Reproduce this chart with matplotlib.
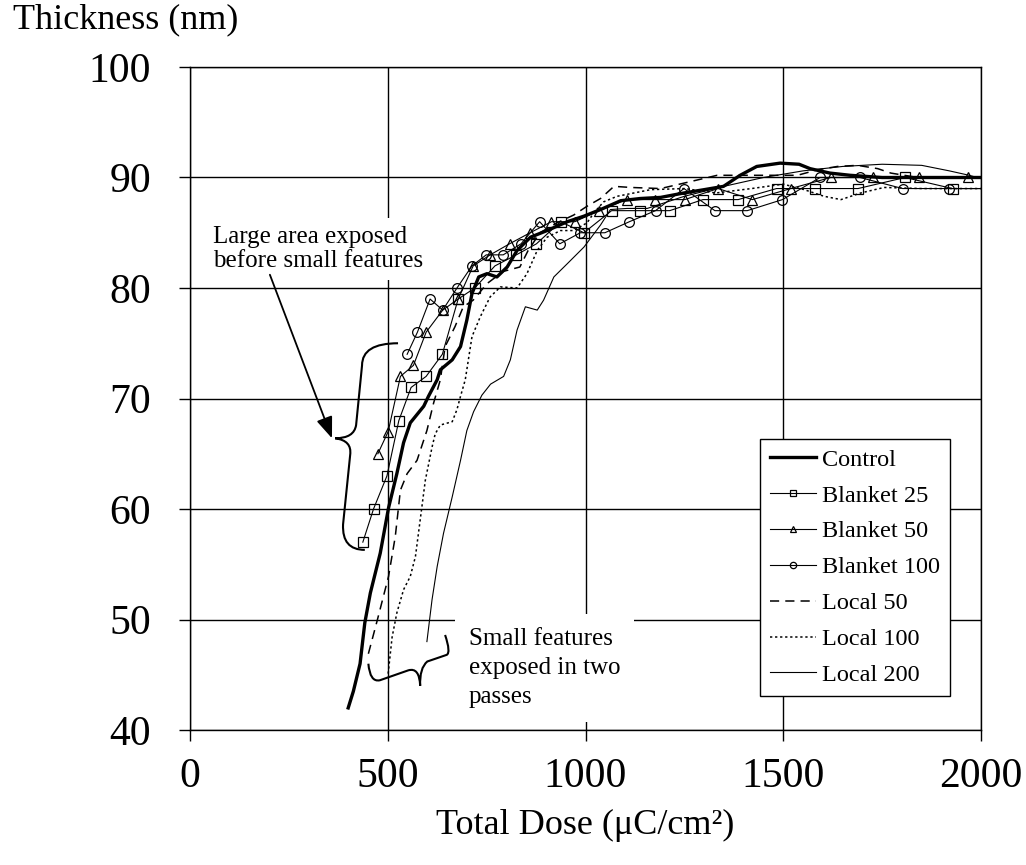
import matplotlib.pyplot as plt
from matplotlib.path import Path
from matplotlib.patches import PathPatch

plt.rcParams['font.family'] = ['Liberation Serif', 'DejaVu Serif']

# --- data ---
control_x = [400, 413, 430, 442, 456, 481, 502, 523, 540, 557, 591, 603, 625, 633, 663, 684, 700, 713,
             730, 751, 776, 802, 827, 861, 903, 954, 996, 1038, 1089, 1139, 1190, 1249, 1300, 1349,
             1391, 1433, 1492, 1540, 1568, 1618, 1669, 1750, 2000]
control_y = [42.0, 43.5, 46.0, 49.7, 52.4, 56.0, 60.1, 63.2, 66.0, 67.8, 69.3, 70.2, 71.7, 72.6, 73.5,
             74.7, 77.1, 79.5, 81.0, 81.3, 81.0, 81.9, 83.4, 84.6, 85.2, 86.0, 86.5, 87.1, 87.9, 88.1,
             88.2, 88.6, 88.9, 89.2, 90.2, 91.0, 91.3, 91.2, 90.8, 90.4, 90.2, 90.0, 90.0]

blanket25_x = [437, 464, 498, 528, 559, 597, 638, 678, 720, 771, 825, 876, 937, 996, 1066, 1137, 1213,
               1297, 1386, 1483, 1581, 1689, 1808, 1928, 2050]
blanket25_y = [57, 60, 63, 68, 71, 72, 74, 79, 80, 82, 83, 84, 86, 85, 87, 87, 87, 88, 88, 89, 89, 89,
               90, 89, 89]

blanket50_x = [475, 501, 532, 565, 597, 639, 678, 716, 759, 808, 860, 914, 973, 1034, 1104, 1175, 1251,
               1335, 1422, 1519, 1620, 1726, 1844, 1966, 2090]
blanket50_y = [65, 67, 72, 73, 76, 78, 79, 82, 83, 84, 85, 86, 86, 87, 88, 88, 88, 89, 88, 89, 90, 90,
               90, 90, 90]

blanket100_x = [549, 575, 607, 639, 675, 713, 749, 792, 837, 884, 935, 987, 1049, 1111, 1177, 1249, 1327,
                1409, 1498, 1593, 1694, 1802, 1920, 2040]
blanket100_y = [74, 76, 79, 78, 80, 82, 83, 83, 84, 86, 84, 85, 85, 86, 87, 89, 87, 87, 88, 90, 90, 89,
                89, 89]

local50_x = [451, 474, 502, 519, 532, 549, 574, 599, 616, 633, 645, 670, 691, 716, 751, 792, 834, 855,
             885, 928, 970, 1004, 1038, 1072, 1114, 1190, 1250, 1333, 1400, 1536, 1587, 1637, 1688, 1739,
             1772, 1840, 2000]
local50_y = [46.9, 50.0, 53.9, 57.5, 61.7, 63.2, 64.4, 67.1, 69.6, 71.7, 74.7, 76.5, 78.3, 78.9, 80.4,
             81.5, 81.9, 83.4, 85.0, 85.9, 86.6, 87.4, 88.1, 89.2, 89.1, 89.0, 89.5, 90.2, 90.2, 90.2,
             90.7, 91.0, 91.1, 90.8, 90.4, 90.0, 90.0]

local100_x = [501, 511, 523, 540, 557, 570, 582, 595, 612, 620, 633, 663, 675, 684, 696, 713, 734, 759,
              785, 827, 852, 878, 903, 937, 970, 1004, 1021, 1046, 1080, 1165, 1250, 1330, 1420, 1500,
              1553, 1603, 1646, 1696, 1755, 1850, 2000]
local100_y = [45.1, 48.4, 50.6, 52.7, 53.9, 55.7, 59.0, 62.6, 65.6, 66.8, 67.6, 67.9, 69.0, 70.2, 71.7,
              75.6, 77.4, 79.2, 80.1, 80.0, 81.3, 83.4, 84.6, 85.2, 85.2, 85.9, 86.8, 87.8, 88.3, 88.9,
              89.0, 88.6, 89.0, 89.4, 88.9, 88.3, 88.0, 88.6, 89.1, 89.0, 89.0]

local200_x = [599, 612, 625, 641, 663, 684, 700, 717, 738, 760, 793, 810, 827, 848, 878, 894, 920, 954,
              996, 1038, 1063, 1105, 1156, 1250, 1350, 1450, 1550, 1650, 1750, 1850, 1920, 1970, 2000]
local200_y = [48.0, 51.8, 54.8, 57.8, 61.1, 64.4, 67.1, 68.8, 70.3, 71.3, 72.0, 73.5, 76.2, 78.3, 78.0,
              78.9, 81.0, 82.2, 83.7, 85.7, 87.1, 87.2, 87.2, 88.3, 89.2, 90.0, 90.6, 91.0, 91.2, 91.1,
              90.6, 90.2, 89.9]

x_ticks = [0, 500, 1000, 1500, 2000]
y_ticks = [40, 50, 60, 70, 80, 90, 100]

fig = plt.figure(figsize=(10.26, 8.65), dpi=100)
ax = fig.add_axes([190 / 1026, 1 - 730 / 865, 791 / 1026, 663 / 865])

ax.plot(control_x, control_y, color='black', lw=2.4, label='Control', zorder=5)
mk = dict(color='black', lw=0.8, markerfacecolor='none', markeredgecolor='black', markeredgewidth=0.9)
ax.plot(blanket25_x, blanket25_y, marker='s', ms=6.5, label='Blanket 25', **mk)
ax.plot(blanket50_x, blanket50_y, marker='^', ms=7, label='Blanket 50', **mk)
ax.plot(blanket100_x, blanket100_y, marker='o', ms=7, label='Blanket 100', **mk)
ax.plot(local50_x, local50_y, color='black', lw=1.1, ls=(0, (6, 4)), label='Local 50')
ax.plot(local100_x, local100_y, color='black', lw=1.1, ls=(0, (1.5, 1.8)), label='Local 100')
ax.plot(local200_x, local200_y, color='black', lw=0.8, label='Local 200')

ax.set_xlim(0, 2000)
ax.set_ylim(40, 100)
ax.set_xticks(x_ticks)
ax.set_yticks(y_ticks)
ax.grid(True, color='black', lw=1.0)
ax.set_axisbelow(True)
for s in ax.spines.values():
    s.set_color('black')
    s.set_linewidth(1.0)
ax.tick_params(axis='both', direction='out', length=8, width=1.0, labelsize=30, colors='black')
ax.tick_params(axis='y', pad=20)
ax.tick_params(axis='x', pad=12)

fig.text(13 / 1026, 1 - 3 / 865, 'Thickness (nm)', fontsize=26, ha='left', va='top')
fig.text(585 / 1026, 1 - 834 / 865, 'Total Dose (\u03bcC/cm\u00b2)', fontsize=26, ha='center',
         va='baseline')

leg = ax.legend(loc='upper left', bbox_to_anchor=(0.721, 0.439), fontsize=17.5, frameon=True,
                fancybox=False, edgecolor='black', framealpha=1, borderaxespad=0,
                handlelength=1.9, handletextpad=0.25, labelspacing=0.57, markerscale=0.65,
                borderpad=0.4)
leg.get_frame().set_linewidth(1.0)
leg.set_zorder(10)

# annotation: large area exposed first
ax.text(58, 85.6, 'Large area exposed\nbefore small features', fontsize=18, ha='left', va='top',
        linespacing=1.1, zorder=6,
        bbox=dict(facecolor='white', edgecolor='none', pad=6))
ax.annotate('', xy=(359, 66.4), xytext=(202, 81.2),
            arrowprops=dict(arrowstyle='-|>,head_length=1.3,head_width=0.5', color='black', lw=1.3,
                            shrinkA=0, shrinkB=0), zorder=6)
brace_v = [(526, 75.0), (435, 75.0), (435, 73.0), (420, 67.6), (415, 66.4), (367, 66.4),
           (410, 66.2), (405, 64.9), (387, 58.6), (384, 56.3), (442, 56.3)]
codes_v = [Path.MOVETO, Path.CURVE3, Path.CURVE3, Path.LINETO, Path.CURVE3, Path.CURVE3,
           Path.CURVE3, Path.CURVE3, Path.LINETO, Path.CURVE3, Path.CURVE3]
ax.add_patch(PathPatch(Path(brace_v, codes_v), fill=False, lw=1.5, color='black', zorder=6))

# annotation: small features in two passes
ax.text(705, 49.2, 'Small features\nexposed in two\npasses', fontsize=18, ha='left', va='top',
        linespacing=1.4, zorder=6,
        bbox=dict(facecolor='white', edgecolor='none', pad=10))
brace_h = [(451, 46.0), (455, 44.3), (480, 44.5), (552, 45.4), (580, 45.7), (582, 44.0),
           (580, 45.6), (600, 46.2), (649, 46.8), (660, 47.0), (645, 48.6)]
codes_h = [Path.MOVETO, Path.CURVE3, Path.CURVE3, Path.LINETO, Path.CURVE3, Path.CURVE3,
           Path.CURVE3, Path.CURVE3, Path.LINETO, Path.CURVE3, Path.CURVE3]
ax.add_patch(PathPatch(Path(brace_h, codes_h), fill=False, lw=1.5, color='black', zorder=6))

fig.savefig('out.png', dpi=100)
